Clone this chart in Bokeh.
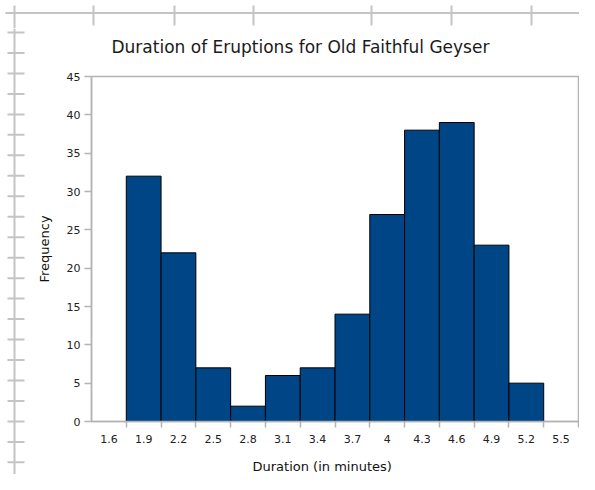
import numpy as np
from bokeh.plotting import figure
from bokeh.models import Range1d, FixedTicker, Title, LinearAxis
from bokeh.layouts import column, row
from bokeh.embed import file_html
from bokeh.resources import INLINE

# ---- data ----
title_text = "Duration of Eruptions for Old Faithful Geyser"
x_title = "Duration (in minutes)"
y_title = "Frequency"
bin_labels = ["1.6", "1.9", "2.2", "2.5", "2.8", "3.1", "3.4", "3.7",
              "4", "4.3", "4.6", "4.9", "5.2", "5.5"]
frequencies = [0, 32, 22, 7, 2, 6, 7, 14, 27, 38, 39, 23, 5, 0]
y_ticks = [0, 5, 10, 15, 20, 25, 30, 35, 40, 45]

GRAY = "#c4c4c4"
AXGRAY = "#b3b3b3"
BAR = "#004586"
FONT = "DejaVu Sans"


def bare(w, h, xr, yr):
    f = figure(width=w, height=h, x_range=xr, y_range=yr,
               output_backend="svg", toolbar_location=None,
               x_axis_location=None, y_axis_location=None,
               min_border=0, min_border_left=0, min_border_right=0,
               min_border_top=0, min_border_bottom=0)
    f.grid.visible = False
    f.outline_line_color = None
    f.background_fill_color = "white"
    f.border_fill_color = "white"
    return f


def spacer_axis(size):
    # an axis used only to reserve vertical space in a side panel
    return LinearAxis(ticker=FixedTicker(ticks=[0.55], minor_ticks=[]),
                      major_tick_out=size, major_tick_in=0,
                      major_tick_line_color="white", major_tick_line_width=0.01,
                      minor_tick_line_color=None, minor_tick_out=0,
                      axis_line_color=None,
                      major_label_standoff=0, major_label_text_color=None,
                      major_label_text_font_size="0px",
                      major_label_overrides={0.55: ""})


# ---- decorative rulers (page frame of the original screenshot) ----
top = bare(579, 28, Range1d(0, 579), Range1d(28, 0))
top.segment(x0=[5], y0=[12.5], x1=[579], y1=[12.5], line_color=GRAY, line_width=2)
top_marks = [93, 174, 253, 371, 451, 531]
top.segment(x0=top_marks, y0=[5] * len(top_marks), x1=top_marks,
            y1=[25] * len(top_marks), line_color=GRAY, line_width=2)
top.segment(x0=[14], y0=[5], x1=[14], y1=[28], line_color=GRAY, line_width=2)

left = bare(26, 446, Range1d(0, 26), Range1d(474, 28))
left.segment(x0=[14], y0=[28], x1=[14], y1=[474], line_color=GRAY, line_width=2)
left_marks = list(32 + 20.47 * np.arange(22))
left.segment(x0=[7] * len(left_marks), y0=left_marks, x1=[24] * len(left_marks),
             y1=left_marks, line_color=GRAY, line_width=2)

# ---- main chart ----
positions = np.arange(1, len(bin_labels) + 1)
freq = np.array(frequencies)
mask = freq > 0

p = figure(width=553, height=446,
           x_range=Range1d(0.5, len(bin_labels) + 0.5), y_range=Range1d(0, 45),
           output_backend="svg", toolbar_location=None,
           min_border_left=65, min_border_right=1,
           min_border_top=48, min_border_bottom=53)
p.background_fill_color = "white"
p.border_fill_color = "white"
p.grid.visible = False
p.outline_line_color = AXGRAY
p.outline_line_width = 1.5

p.quad(left=positions[mask] - 0.5, right=positions[mask] + 0.5,
       bottom=0, top=freq[mask], fill_color=BAR, line_color="black", line_width=1)

xa = p.xaxis[0]
xa.ticker = FixedTicker(ticks=list(positions), minor_ticks=list(positions + 0.5))
xa.major_label_overrides = {int(k): lab for k, lab in zip(positions, bin_labels)}
xa.major_tick_line_color = None
xa.major_tick_out = 6
xa.major_tick_in = 0
xa.minor_tick_out = 6
xa.minor_tick_in = 0
xa.minor_tick_line_color = AXGRAY
xa.minor_tick_line_width = 1.5
xa.axis_line_color = AXGRAY
xa.axis_line_width = 1.5
xa.major_label_standoff = 7
xa.major_label_text_font = FONT
xa.major_label_text_font_size = "11px"
xa.major_label_text_color = "#222222"

ya = p.yaxis[0]
ya.ticker = FixedTicker(ticks=y_ticks, minor_ticks=[])
ya.major_tick_out = 7
ya.major_tick_in = 0
ya.major_tick_line_color = AXGRAY
ya.major_tick_line_width = 1.5
ya.axis_line_color = AXGRAY
ya.axis_line_width = 1.5
ya.major_label_standoff = 4
ya.major_label_text_font = FONT
ya.major_label_text_font_size = "11px"
ya.major_label_text_color = "#222222"
ya.axis_label = y_title
ya.axis_label_standoff = 12
ya.axis_label_text_font = FONT
ya.axis_label_text_font_size = "13px"
ya.axis_label_text_font_style = "normal"
ya.axis_label_text_color = "#111111"

# title (above): spacer next to the frame, then the title text
p.add_layout(spacer_axis(20), "above")
p.add_layout(Title(text=title_text, align="left", offset=20, standoff=0,
                   text_font=FONT, text_font_size="17px", text_font_style="normal",
                   text_color="#1a1a1a"), "above")

# x axis title (below): spacer after the axis, then the text
p.add_layout(spacer_axis(16), "below")
p.add_layout(Title(text=x_title, align="left", offset=161, standoff=-6,
                   vertical_align="top",
                   text_font=FONT, text_font_size="13px", text_font_style="normal",
                   text_color="#111111"), "below")

layout = column(top, row(column(left), p))
open("out.html", "w").write(file_html(layout, INLINE))
